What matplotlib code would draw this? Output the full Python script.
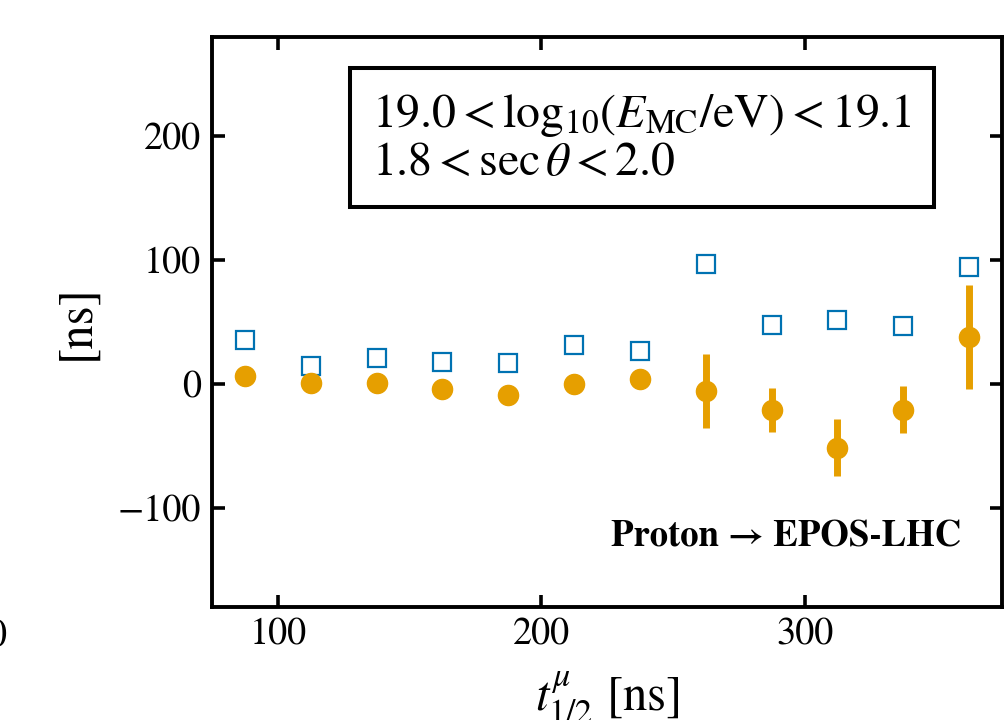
import matplotlib
matplotlib.use("Agg")
import matplotlib.pyplot as plt

#-------------------------------------------- Data --------------------------------------------#

t_half = [87.5, 112.5, 137.5, 162.5, 187.5, 212.5, 237.5, 262.5, 287.5, 312.5, 337.5, 362.5]
bias = [6.5, 0.5, 1.0, -4.0, -9.0, -0.5, 3.5, -6.0, -21.0, -51.5, -21.0, 37.5]
bias_err = [3.0, 3.0, 3.0, 3.0, 3.0, 3.0, 3.0, 30.0, 18.0, 23.0, 19.0, 42.0]
spread = [35.0, 14.0, 20.5, 18.0, 16.5, 31.0, 26.5, 96.5, 47.5, 51.5, 46.5, 94.0]

orange = '#E69F00'
blue = '#0072B2'

plt.rcParams['font.family'] = 'STIXGeneral'
plt.rcParams['mathtext.fontset'] = 'stix'

fig = plt.figure(figsize=(10.05, 7.2), dpi=100)
ax = fig.add_axes([0.211, 0.157, 0.786, 0.792])

ax.plot(t_half, spread, 's', ms=13.5, mfc='none', mec=blue, mew=1.6)
ax.errorbar(t_half, bias, yerr=bias_err, fmt='o', ms=14.5, color=orange,
            elinewidth=5, capsize=0)

ax.set_xlim(75, 375)
ax.set_ylim(-180, 280)
ax.set_xticks([100, 200, 300])
ax.set_yticks([-100, 0, 100, 200])

for s in ax.spines.values():
    s.set_linewidth(2.8)
ax.tick_params(direction='in', top=True, right=True, length=9, width=2.6,
               labelsize=27.5, pad=8)

ax.set_xlabel(r'$t^{\mu}_{1/2}$ [ns]', fontsize=35, labelpad=13)
ax.set_ylabel('[ns]', fontsize=35, labelpad=13)

ax.text(0.2025, 0.821,
        "$19.0 < \\mathrm{log}_{10}(E_{\\rm MC}/{\\rm eV}) < 19.1$\n$1.8 < \\sec\\theta < 2.0$",
        transform=ax.transAxes, fontsize=34.5, va='center', ha='left', linespacing=1.1,
        bbox=dict(boxstyle='square,pad=0.46', fc='white', ec='black', lw=2.9))

ax.text(0.949, 0.121, 'Proton → EPOS-LHC', transform=ax.transAxes, fontsize=26.5,
        fontweight='bold', ha='right', va='center')

# tick label spilling over from the neighbouring panel
fig.text(-0.003, 0.115, '0', fontsize=27.5, ha='center', va='center')

fig.savefig('out.png', dpi=100)
